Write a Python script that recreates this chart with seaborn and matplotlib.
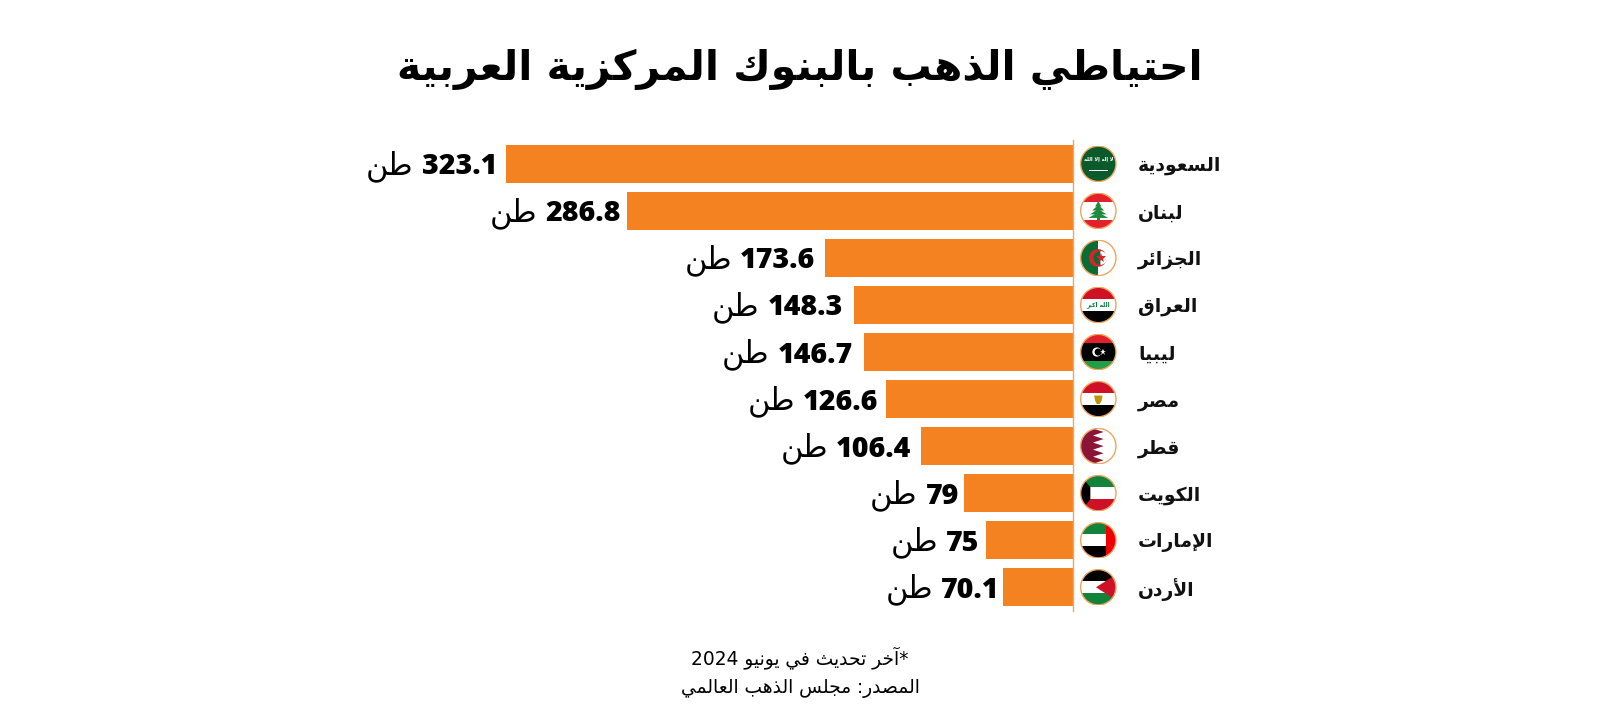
import matplotlib
matplotlib.use("Agg")
import matplotlib.pyplot as plt
import numpy as np
import pandas as pd
import seaborn as sns
from matplotlib.patches import Circle, Polygon, Rectangle, Wedge

countries = ["السعودية", "لبنان", "الجزائر", "العراق", "ليبيا", "مصر", "قطر", "الكويت", "الإمارات", "الأردن"]
flags = ["sa", "lb", "dz", "iq", "ly", "eg", "qa", "kw", "ae", "jo"]
# tonnes as printed on the labels
tonnes = [323.1, 286.8, 173.6, 148.3, 146.7, 126.6, 106.4, 79, 75, 70.1]
# bar lengths as drawn, in the same unit; the picture does not draw them to scale with the labels
bar_lengths = [323.1, 254.1, 141.3, 125.0, 119.2, 106.4, 86.6, 62.2, 49.4, 40.1]
unit = "طن"
title = "احتياطي الذهب بالبنوك المركزية العربية"
note = "*آخر تحديث في يونيو 2024"
source = "المصدر: مجلس الذهب العالمي"

ORANGE = "#f58220"
RING = "#eda55f"

# matplotlib has no arabic shaping, so map to presentation forms and flip to visual order
FOUR = dict(zip("ئبتثجحخسشصضطظعغفقكلمنهي",
                [0xFE89, 0xFE8F, 0xFE95, 0xFE99, 0xFE9D, 0xFEA1, 0xFEA5, 0xFEB1, 0xFEB5, 0xFEB9, 0xFEBD,
                 0xFEC1, 0xFEC5, 0xFEC9, 0xFECD, 0xFED1, 0xFED5, 0xFED9, 0xFEDD, 0xFEE1, 0xFEE5, 0xFEE9, 0xFEF1]))
TWO = dict(zip("آأؤإادذرزوىة",
               [0xFE81, 0xFE83, 0xFE85, 0xFE87, 0xFE8D, 0xFEA9, 0xFEAB, 0xFEAD, 0xFEAF, 0xFEED, 0xFEEF, 0xFE93]))
LAM_ALEF = {"آ": 0xFEF5, "أ": 0xFEF7, "إ": 0xFEF9, "ا": 0xFEFB}


def ar(s):
    out = []
    i = 0
    prev_joins = False
    while i < len(s):
        c = s[i]
        nxt = s[i + 1] if i + 1 < len(s) else ""
        if c == "ل" and nxt in LAM_ALEF:
            out.append(chr(LAM_ALEF[nxt] + (1 if prev_joins else 0)))
            prev_joins = False
            i += 2
            continue
        next_ok = nxt in FOUR or nxt in TWO
        if c in FOUR:
            base = FOUR[c]
            if prev_joins and next_ok:
                out.append(chr(base + 3))
            elif prev_joins:
                out.append(chr(base + 1))
            elif next_ok:
                out.append(chr(base + 2))
            else:
                out.append(chr(base))
            prev_joins = next_ok
        elif c in TWO:
            out.append(chr(TWO[c] + (1 if prev_joins else 0)))
            prev_joins = False
        else:
            out.append(c)
            prev_joins = False
        i += 1
    # flip, but keep runs of digits readable
    res = []
    run = ""
    for c in reversed(out):
        if c.isdigit() or c == ".":
            run = c + run
        else:
            res.append(run)
            run = ""
            res.append(c)
    res.append(run)
    return "".join(res)


sns.set_theme(style="white")
plt.rcParams["font.family"] = ["DejaVu Sans"]

df = pd.DataFrame({"country": countries, "length": bar_lengths})

W, H = 1600, 720
AXIS_X = 1073
TOP, BOTTOM = 140.3, 610.8
fig = plt.figure(figsize=(16, 7.2), dpi=100, facecolor="white")
ax = fig.add_axes([300 / W, (H - BOTTOM) / H, (AXIS_X - 300) / W, (BOTTOM - TOP) / H])
sns.barplot(data=df, x="length", y="country", color=ORANGE, saturation=1, width=0.8, linewidth=0, ax=ax)
ax.set_xlim((AXIS_X - 300) / 1.755, 0)
ax.set_ylim(9.5, -0.5)
ax.set_xlabel("")
ax.set_ylabel("")
ax.set_xticks([])
ax.set_yticks([])
ax.patch.set_alpha(0)
for s in ["top", "bottom", "left"]:
    ax.spines[s].set_visible(False)
ax.spines["right"].set_color(RING)
ax.spines["right"].set_linewidth(1)

label_pads = [9, 6, 10, 11, 11, 8, 10, 5, 7, 3]
for i, (t, l) in enumerate(zip(tonnes, bar_lengths)):
    num = ax.annotate(f"{t:g}", xy=(l, i), xytext=(-label_pads[i], -3), textcoords="offset pixels",
                      ha="right", va="center", fontsize=20.5, fontweight=800,
                      fontfamily="Open Sans", fontstretch="normal", color="black")
    ax.annotate(ar(unit), xy=(0, 0.5), xycoords=num, xytext=(-8, 1), textcoords="offset pixels",
                ha="right", va="center", fontsize=22, color="black")
    ax.annotate(ar(countries[i]), xy=(0, i), xytext=(65, -2), textcoords="offset pixels",
                ha="left", va="center", fontsize=13.5, fontweight="bold", color="#111111",
                annotation_clip=False)


def stripes(a, clip, colors, fracs=None):
    fracs = fracs or [1 / len(colors)] * len(colors)
    top = 1.0
    for col, f in zip(colors, fracs):
        h = 2 * f
        r = Rectangle((-1, top - h), 2, h, fc=col, ec="none")
        a.add_patch(r)
        r.set_clip_path(clip)
        top -= h


def add(a, clip, patch):
    a.add_patch(patch)
    patch.set_clip_path(clip)
    return patch


def draw_flag(code, a, clip):
    if code == "sa":
        add(a, clip, Rectangle((-1, -1), 2, 2, fc="#0b5a2b", ec="none"))
        a.text(0, 0.22, ar("لا إله إلا الله"), fontsize=3.6, color="white", ha="center", va="center", fontweight="bold")
        add(a, clip, Rectangle((-0.5, -0.42), 1.05, 0.07, fc="white", ec="none"))
    elif code == "lb":
        stripes(a, clip, ["#e5202a", "white", "#e5202a"], [0.25, 0.5, 0.25])
        for y, hw in [(0.56, 0.18), (0.34, 0.34), (0.12, 0.46), (-0.08, 0.56)]:
            add(a, clip, Polygon([(-hw, y - 0.32), (hw, y - 0.32), (0, y)], fc="#1f8a3b", ec="none"))
        add(a, clip, Rectangle((-0.07, -0.55), 0.14, 0.2, fc="#1f8a3b", ec="none"))
    elif code == "dz":
        add(a, clip, Rectangle((-1, -1), 1, 2, fc="#0b6b35", ec="none"))
        add(a, clip, Rectangle((0, -1), 1, 2, fc="white", ec="none"))
        add(a, clip, Circle((-0.02, 0), 0.5, fc="#d8232a", ec="none"))
        add(a, clip, Wedge((0.12, 0), 0.39, 90, 270, fc="#0b6b35", ec="none"))
        add(a, clip, Wedge((0.12, 0), 0.39, -90, 90, fc="white", ec="none"))
        a.plot([0.18], [0], marker="*", ms=7, color="#d8232a", mew=0, zorder=5)
    elif code == "iq":
        stripes(a, clip, ["#ce1126", "white", "black"])
        a.text(0, 0, ar("الله اكبر"), fontsize=4.2, color="#0b7a3b", ha="center", va="center", fontweight="bold")
    elif code == "ly":
        stripes(a, clip, ["#e2202c", "black", "#239e46"], [0.25, 0.5, 0.25])
        add(a, clip, Circle((-0.08, 0), 0.26, fc="white", ec="none"))
        add(a, clip, Circle((-0.01, 0), 0.2, fc="black", ec="none"))
        a.plot([0.28], [0], marker="*", ms=4.5, color="white", mew=0)
    elif code == "eg":
        stripes(a, clip, ["#ce1126", "white", "black"])
        add(a, clip, Polygon([(-0.24, 0.2), (0.24, 0.2), (0.18, -0.1), (0.08, -0.28), (-0.08, -0.28), (-0.18, -0.1)],
                             fc="#c09300", ec="none"))
    elif code == "qa":
        add(a, clip, Rectangle((-1, -1), 2, 2, fc="white", ec="none"))
        ys = np.linspace(1, -1, 11)
        teeth = [(-1, 1)] + [(-0.3 if k % 2 == 0 else 0.3, y) for k, y in enumerate(ys)] + [(-1, -1)]
        add(a, clip, Polygon(teeth, fc="#8a1538", ec="none"))
    elif code == "kw":
        stripes(a, clip, ["#12833b", "white", "#ce1126"])
        add(a, clip, Polygon([(-1, 1), (-0.45, 0.34), (-0.45, -0.34), (-1, -1)], fc="black", ec="none"))
    elif code == "ae":
        stripes(a, clip, ["#12833b", "white", "black"])
        add(a, clip, Rectangle((0.42, -1), 0.58, 2, fc="#f00000", ec="none"))
    elif code == "jo":
        stripes(a, clip, ["black", "white", "#12833b"])
        add(a, clip, Polygon([(1, 0.72), (-0.13, 0), (1, -0.72)], fc="#ce1126", ec="none"))


R = 18.2
for i, code in enumerate(flags):
    cy = ax.transData.transform((0, i))[1]
    fa = fig.add_axes([(1098.3 - R) / W, (cy - R) / H, 2 * R / W, 2 * R / H])
    fa.set_xlim(-1.03, 1.03)
    fa.set_ylim(-1.03, 1.03)
    fa.axis("off")
    clip = Circle((0, 0), 1, transform=fa.transData)
    draw_flag(code, fa, clip)
    fa.add_patch(Circle((0, 0), 1, fc="none", ec=RING, lw=1))

fig.text(800 / W, 1 - 69.5 / H, ar(title), ha="center", va="center", fontsize=29.5, fontweight="bold", color="black")
fig.text(800 / W, 1 - 658 / H, ar(note), ha="center", va="center", fontsize=13.4, color="black")
fig.text(800 / W, 1 - 688 / H, ar(source), ha="center", va="center", fontsize=13.4, color="black")

fig.savefig("out.png", dpi=100, facecolor="white")
